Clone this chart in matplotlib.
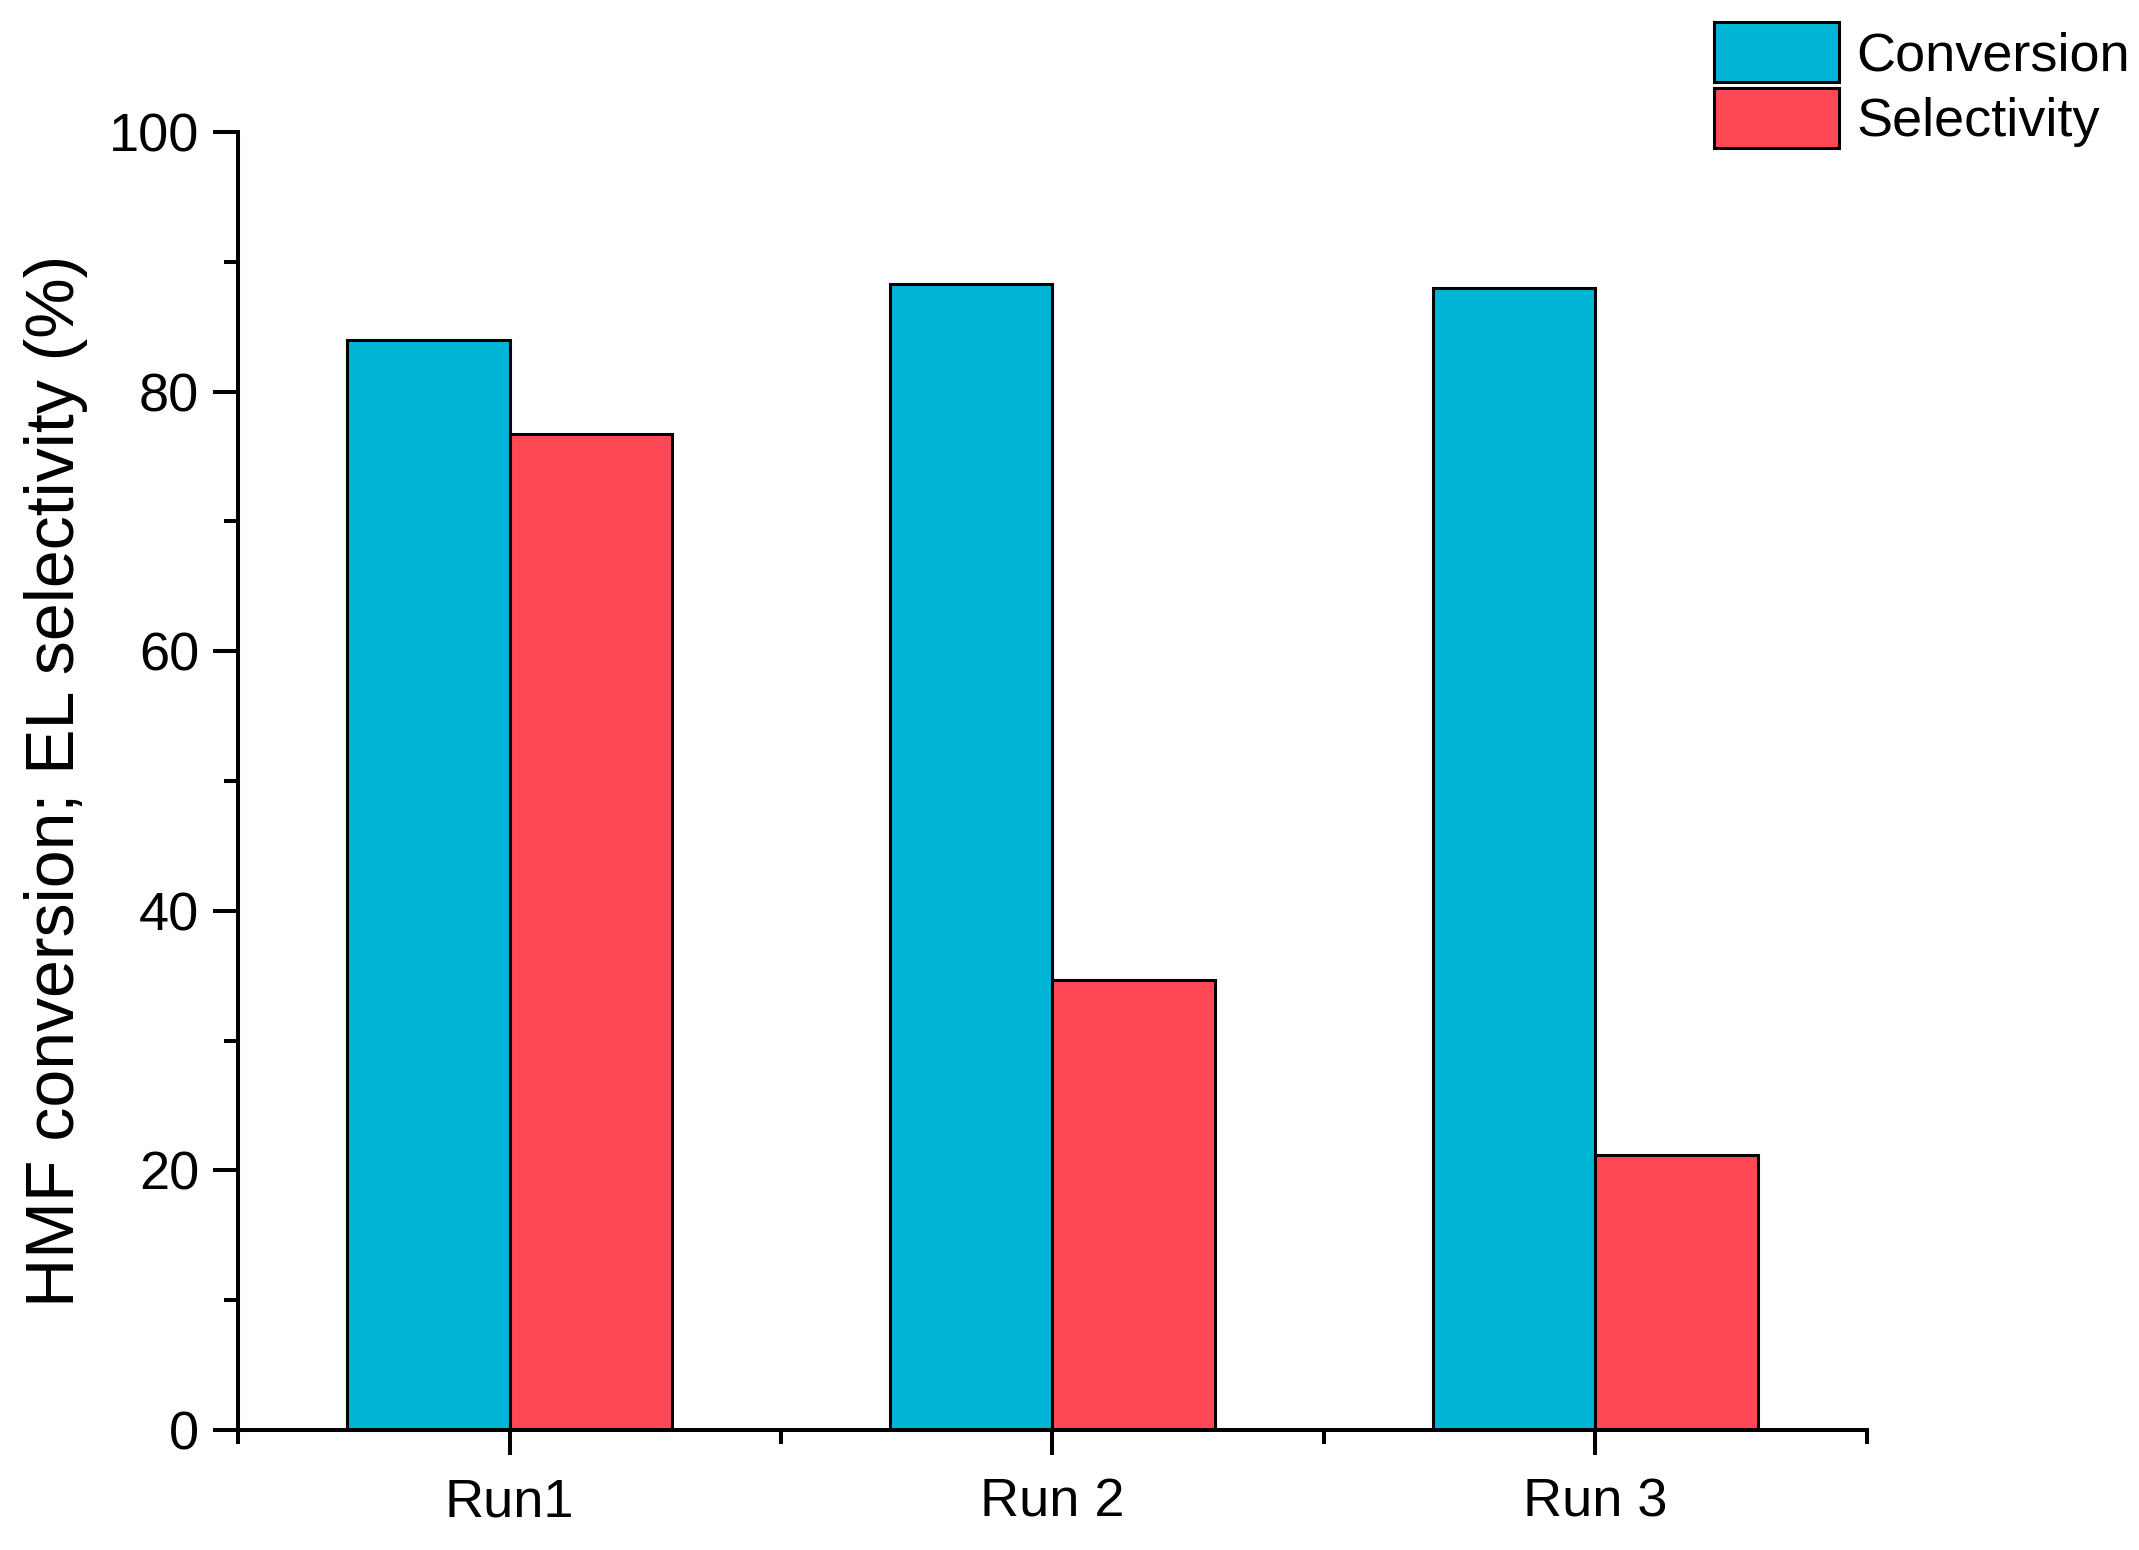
import matplotlib
matplotlib.use("Agg")
import matplotlib.pyplot as plt
import numpy as np
from matplotlib.ticker import MultipleLocator, FixedLocator

categories = ["Run1", "Run 2", "Run 3"]
conversion = [84.0, 88.3, 88.0]
selectivity = [76.7, 34.7, 21.2]
series_names = ["Conversion", "Selectivity"]
yticks = [0, 20, 40, 60, 80, 100]

plt.rcParams['font.family'] = ['Liberation Sans', 'DejaVu Sans']

DPI = 100
fig = plt.figure(figsize=(21.39, 15.5), dpi=DPI)
ax = fig.add_axes([0.1113, 0.0774, 0.8728 - 0.1113, 0.9148 - 0.0774])

x = np.arange(1, len(categories) + 1)
w = 0.3
lw_edge = 2.2
b1 = ax.bar(x - w / 2, conversion, width=w, color='#00B5D5', edgecolor='black',
            linewidth=lw_edge, label=series_names[0], zorder=2)
b2 = ax.bar(x + w / 2, selectivity, width=w, color='#FF4856', edgecolor='black',
            linewidth=lw_edge, label=series_names[1], zorder=2)

ax.set_xlim(0.5, 3.5)
ax.set_ylim(0, 100)
ax.set_xticks(x)
ax.set_xticklabels(categories)
ax.xaxis.set_minor_locator(FixedLocator([0.5, 1.5, 2.5, 3.5]))
ax.set_yticks(yticks)
ax.yaxis.set_minor_locator(MultipleLocator(10))

for s in ['top', 'right']:
    ax.spines[s].set_visible(False)
for s in ['left', 'bottom']:
    ax.spines[s].set_linewidth(2.9)

fs = 39
ax.tick_params(axis='both', which='major', direction='out', length=18, width=2.9,
               labelsize=fs, pad=10)
ax.tick_params(axis='both', which='minor', direction='out', length=10, width=2.9)
ax.tick_params(axis='x', which='major', pad=16)

ax.set_ylabel("HMF conversion; EL selectivity (%)", fontsize=49)
ax.yaxis.set_label_coords(-0.092, 0.5)

fs_px = fs * DPI / 72.0
leg = fig.legend(handles=[b1, b2], labels=series_names, loc='upper right',
                 bbox_to_anchor=(2130 / 2139, 1 - 22 / 1550), frameon=False,
                 fontsize=fs, handlelength=125 / fs_px, handleheight=1.34,
                 labelspacing=0.1, handletextpad=0.33, borderpad=0, borderaxespad=0)

fig.savefig("out.png", dpi=DPI, facecolor='white')
